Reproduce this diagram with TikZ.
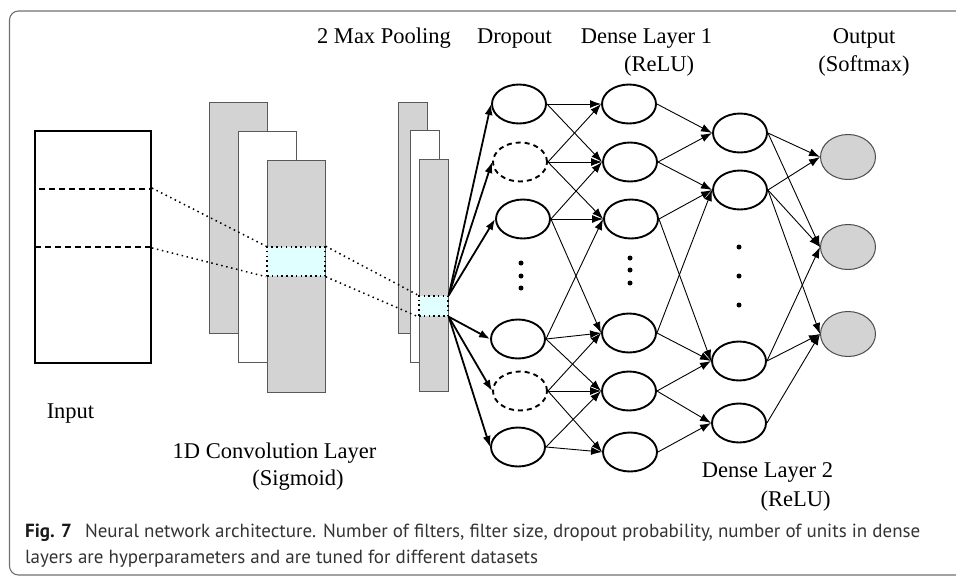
\documentclass[tikz,border=0pt]{standalone}
\usepackage{fontspec}
\setmainfont{Liberation Serif}
\newfontfamily\capfont{PT Sans}
\usetikzlibrary{shapes.geometric,arrows.meta}
\definecolor{boxgray}{HTML}{D3D3D3}
\definecolor{hicyan}{HTML}{E0FFFF}
\definecolor{framegray}{HTML}{707070}
\definecolor{captext}{HTML}{333333}
\begin{document}
\begin{tikzpicture}[x=1pt,y=-1pt,
  lbl/.style={anchor=base,inner sep=0pt,font=\fontsize{22.5}{26}\selectfont},
  caplbl/.style={anchor=base west,inner sep=0pt,text=captext,font=\capfont\fontsize{19}{24}\selectfont},
  layerbox/.style={draw=black!65,line width=1pt,fill=boxgray},
  whitebox/.style={draw=black!65,line width=1pt,fill=white},
  hibox/.style={fill=hicyan,draw=black,line width=1.5pt,dash pattern=on 1.5pt off 3.3pt},
  dotline/.style={black,line width=1.5pt,dash pattern=on 1.5pt off 3.6pt},
  unit/.style={ellipse,draw=black,line width=1.9pt,minimum width=54pt,minimum height=39pt,inner sep=0pt},
  dropunit/.style={unit,dash pattern=on 5pt off 4pt},
  outunit/.style={ellipse,draw=black!70,line width=1pt,fill=boxgray,minimum width=55pt,minimum height=45pt,inner sep=0pt},
  thin/.style={line width=0.9pt,-{Latex[length=11pt,width=8pt]}},
  thick/.style={line width=1.8pt,-{Latex[length=11pt,width=8pt]}},
  vdot/.style={circle,fill=black,inner sep=0pt,minimum size=5pt}
]
\useasboundingbox (0,0) rectangle (956,576);
% frame
\draw[framegray,line width=1.1pt,rounded corners=9pt] (960,11) -- (9.5,11) -- (9.5,575) -- (960,575);

% input
\node[draw=black,line width=1.1pt,minimum width=116pt,minimum height=232pt,inner sep=0pt] (inp) at (93,247) {};
\node[draw=black,line width=1.9pt,dash pattern=on 6pt off 4pt,minimum width=116pt,minimum height=58pt,inner sep=0pt] (win) at (93,218) {};

% convolution maps
\node[layerbox,minimum width=58pt,minimum height=231pt,inner sep=0pt] (c1) at (238,217.5) {};
\node[whitebox,minimum width=58pt,minimum height=231pt,inner sep=0pt] (c2) at (267,246.5) {};
\node[layerbox,minimum width=58pt,minimum height=232pt,inner sep=0pt] (c3) at (296,276) {};
\node[hibox,minimum width=58pt,minimum height=29pt,inner sep=0pt] (cc) at (296,261.5) {};

% pooling maps
\node[layerbox,minimum width=29pt,minimum height=231pt,inner sep=0pt] (p1) at (412.5,217.5) {};
\node[whitebox,minimum width=29pt,minimum height=232pt,inner sep=0pt] (p2) at (424.5,246) {};
\node[layerbox,minimum width=29pt,minimum height=232pt,inner sep=0pt] (p3) at (433.5,275) {};
\node[hibox,minimum width=29pt,minimum height=20pt,inner sep=0pt] (pc) at (433.5,306) {};

% dotted projection lines
\draw[dotline] (win.north east) -- (cc.north west);
\draw[dotline] (win.south east) -- (cc.south west);
\draw[dotline] (cc.north east) -- (pc.north west);
\draw[dotline] (cc.south east) -- (pc.south west);

% dropout layer
\node[unit] (d1) at (519,104) {};
\node[dropunit] (d2) at (520,162) {};
\node[unit] (d3) at (523,219) {};
\node[unit] (d4) at (518,339) {};
\node[dropunit] (d5) at (520,391) {};
\node[unit] (d6) at (518,447) {};
\node[vdot] (dd1) at (521,263) {};
\node[vdot] (dd2) at (521,276) {};
\node[vdot] (dd3) at (521,288) {};

% dense layer 1
\node[unit] (e1) at (629,104) {};
\node[unit] (e2) at (630,162) {};
\node[unit] (e3) at (631,219) {};
\node[unit] (e4) at (629,333) {};
\node[unit] (e5) at (629,391) {};
\node[unit] (e6) at (630,452) {};
\node[vdot] (ed1) at (630,258) {};
\node[vdot] (ed2) at (630,270) {};
\node[vdot] (ed3) at (630,283) {};

% dense layer 2
\node[unit] (f1) at (740,133) {};
\node[unit] (f2) at (740,190) {};
\node[unit] (f3) at (739,361) {};
\node[unit] (f4) at (739,423) {};
\node[vdot] (fd1) at (739,247) {};
\node[vdot] (fd2) at (739,276) {};
\node[vdot] (fd3) at (739,305) {};

% output
\node[outunit] (o1) at (848,157) {};
\node[outunit] (o2) at (848,247) {};
\node[outunit] (o3) at (848,334) {};

% pooling -> dropout
\foreach \t in {d1,d2,d3} \draw[thick] (pc.north east) -- (\t.west);
\foreach \t in {d4,d5,d6} \draw[thick] (pc.south east) -- (\t.west);

% dropout -> dense 1
\foreach \s/\t in {d1/e1,d1/e2,d2/e1,d2/e2,d2/e3,d3/e2,d3/e3,d3/e4,
                   d4/e3,d4/e4,d4/e5,d5/e4,d5/e5,d5/e6,d6/e5,d6/e6}
  \draw[thin] (\s.east) -- (\t.west);

% dense 1 -> dense 2
\foreach \s/\t in {e1/f1,e2/f1,e2/f2,e3/f2,e3/f3,e4/f2,e4/f3,e5/f3,e5/f4,e6/f4}
  \draw[thin] (\s.east) -- (\t.west);

% dense 2 -> output
\foreach \s/\t in {f1/o1,f1/o2,f2/o1,f2/o2,f2/o3,f3/o2,f3/o3,f4/o3}
  \draw[thin] (\s.east) -- (\t.west);

% labels
\node[lbl] (lpool) at (384,43) {2 Max Pooling};
\node[lbl] (ldrop) at (514.5,43) {Dropout};
\node[lbl] (ld1) at (646.5,43) {Dense Layer 1};
\node[lbl] (ld1a) at (659,71) {(ReLU)};
\node[lbl] (lout) at (864,43) {Output};
\node[lbl] (louta) at (864,71) {(Softmax)};
\node[lbl] (linp) at (70.5,418) {Input};
\node[lbl] (lconv) at (274.5,458) {1D Convolution Layer};
\node[lbl] (lconva) at (298,485) {(Sigmoid)};
\node[lbl] (ld2) at (767.5,477) {Dense Layer 2};
\node[lbl] (ld2a) at (795.5,506) {(ReLU)};

% caption
\node[caplbl] (cap1) at (25,537) {\textbf{\color{black!90}Fig. 7}\hspace{13pt}Neural network architecture. Number of filters, filter size, dropout probability, number of units in dense};
\node[caplbl] (cap2) at (25,563) {layers are hyperparameters and are tuned for different datasets};
\end{tikzpicture}
\end{document}
